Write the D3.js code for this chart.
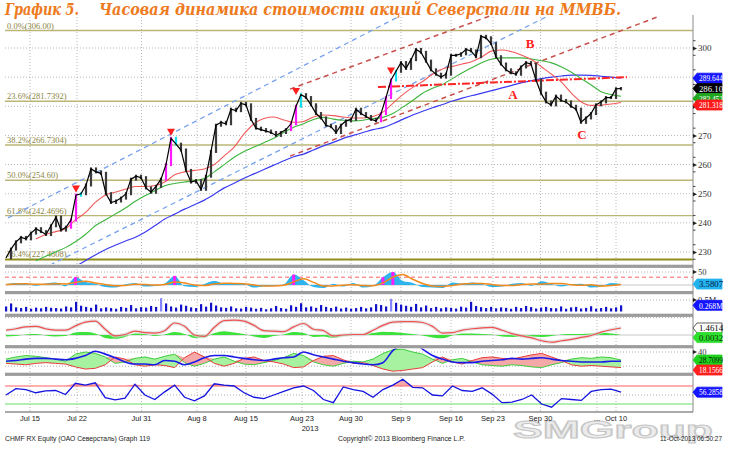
<!DOCTYPE html>
<html>
<head>
<meta charset="utf-8">
<title>График 5. Северсталь</title>
<script src="https://cdn.jsdelivr.net/npm/d3@7"></script>
<style>
  body { margin: 0; background: #fff; }
  svg { display: block; }
</style>
</head>
<body>
<script>
// ---- data ----
var titleLead = "График 5.";
var titleText = "Часовая динамика стоимости акций Северстали на ММВБ.";

// hourly closes, one per bar
var closes = [
  228, 231, 233.5, 235, 234.5, 236.5, 238, 237, 236, 239,
  242, 237.5, 238.5, 241, 249.5, 250, 253, 258.5, 257.5, 257,
  250, 247, 247.5, 248.5, 250, 255, 256, 255.5, 252, 250.5,
  252.5, 255, 260, 269, 267, 265, 258, 254, 254.5, 251.5,
  256, 264.5, 273.5, 274.5, 274, 279, 278.5, 281, 280.5, 275.5,
  272.5, 272, 271.5, 271, 270, 271, 272, 274, 280, 284,
  283, 280.5, 277.5, 276, 273.5, 273, 271, 273.5, 275, 275.5,
  279, 277.5, 276.5, 275.5, 275, 277.5, 283, 289, 292, 295,
  293, 296, 299.5, 298.5, 295.5, 292.5, 291, 290, 291, 297.5,
  297.5, 298, 299.5, 299, 297, 304, 303.5, 301.5, 297, 294.5,
  292.5, 291.5, 291, 293.5, 295, 294.5, 289, 284.5, 281.5, 280.5,
  283.5, 282, 281.5, 280, 279, 274.5, 276, 277.5, 280.5, 281.5,
  283, 283, 286, 286.1
];

// moving averages (63 samples over the same span)
var maRed = [null, null, null, 234.5, 236, 237, 238, 241, 243.5, 247,
  249.5, 250.5, 251.5, 252.5, 252.5, 252.8, 254, 256.5, 257.5, 258,
  258.5, 260, 263, 266, 270.5, 274, 275.8, 276.3, 275.3, 274.5,
  274.8, 276.3, 277, 276.8, 276.3, 276, 276, 276.5, 278, 281,
  284, 286.5, 288.5, 291, 292.8, 293.7, 294.5, 295.4, 297, 299,
  299.3, 298.7, 297.5, 296, 293.5, 291, 288.3, 284.5, 281.5, 280.3,
  280.4, 280.8, 281.318];
var maGreen = [null, null, null, 227, 228.5, 230, 231.5, 233.5, 236, 239,
  241, 243, 245, 247.3, 249.3, 251, 252.7, 253.5, 254, 254.5,
  255.2, 257.5, 260, 262.5, 264.5, 266, 267.5, 269, 271, 272.8,
  274, 275.5, 276.2, 275.6, 275.2, 275, 275.2, 275.8, 276.2, 277.5,
  279.7, 282, 284.5, 286.2, 287.5, 289.5, 291.5, 293.3, 295, 296.2,
  296.6, 296.6, 296.6, 296.2, 295.6, 294.9, 293.5, 291.7, 289.5, 287.3,
  285, 284, 283.452];
var maBlue = [null, null, null, null, null, null, null, 225, 227, 229,
  230.8, 232.3, 233.7, 235, 236.8, 239, 241.3, 243, 244.7, 246.2,
  247.8, 249.8, 252, 253.6, 255.3, 256.8, 258.3, 259.8, 261.3, 262.7,
  263.6, 265, 266.4, 267.6, 269, 270, 271, 272, 272.7, 274,
  275.5, 277, 278.3, 279.5, 280.6, 281.8, 282.8, 283.7, 284.5, 285.4,
  286.3, 287.2, 288.1, 288.8, 289.5, 290, 290.4, 290.7, 290.7, 290.6,
  290.3, 290, 289.644];

// Fibonacci retracement levels
var fibLabels = ["0.0%(306.00)", "23.6%(281.7392)", "38.2%(266.7304)", "50.0%(254.60)", "61.8%(242.4696)", "76.4%(227.4608)"];
var fibLevels = [306.00, 281.7392, 266.7304, 254.60, 242.4696, 227.4608];

// trend lines: [barFrom, priceFrom, barTo, priceTo]
var blueTrends = [[0.4, 241.7, 78.8, 311.0], [8.8, 225.5, 108.4, 311.0]];
var redTrends = [[56.8, 285.9, 96.8, 311.0], [56.8, 262.9, 130.8, 311.0]];
var levelLine = [74.4, 286.6, 124.2, 290.0];

// signal bars with red triangles
var signalBars = [14, 33, 58, 77];
var signalPrices = [252, 271.5, 285.5, 292.5];

// wave labels
var waveLabels = ["A", "B", "C"];
var waveBars = [101.4, 104.8, 115.2];
var wavePrices = [284.3, 301.8, 270.5];

// axes (290 sits under the value boxes, as in the original)
var priceTicks = [230, 240, 250, 260, 270, 280, 300];
var gridPrices = [230, 240, 250, 260, 270, 280, 290, 300];
var dateLabels = ["Jul 15", "Jul 22", "Jul 31", "Aug 8", "Aug 15", "Aug 23", "Aug 30", "Sep 9", "Sep 16", "Sep 23", "Sep 30", "...", "Oct 10"];
var dateBars = [4.8, 14.2, 27.1, 38.2, 48, 59.2, 69, 79, 89, 97.4, 106.9, 118.2, 122];

// last values
var mainBoxText = ["289.644", "286.10", "283.452", "281.318"];
var mainBoxVal = [289.644, 286.10, 283.452, 281.318];
var mainBoxFill = ["#1414ff", "#000000", "#1fa81f", "#ff1a1a"];

// oscillator panel
var oscHist = [3, 8, 5, -3, 6, 10, -5, 30, 12, 5, -8, -10, 2, 8, -6, -4, 6, 35, -5, -8,
  4, 15, 6, 8, 4, -10, -6, -4, 2, 40, 18, -8, -12, 5, -6, 8, -10, -4, 30, 50,
  15, 8, -8, -10, -12, 10, 6, 10, 4, -8, -6, 5, 8, -3, 14, 4, -6, 2, 5, -10,
  -6, 8, 3.5807];
var oscLine = [2, 4, 5, 3, 3, 5, 4, 10, 14, 8, 2, -3, -2, 3, 2, 0, 2, 12, 8, 0,
  -2, 4, 7, 6, 5, 0, -4, -4, -1, 12, 24, 10, -4, -4, -1, 1, -2, -3, 8, 30,
  40, 22, 6, -4, -6, -2, 4, 6, 6, 2, -2, -2, 2, 4, 3, 6, 6, 1, -1, 1,
  -4, -2, 2];
var oscSignals = [7, 17, 29, 38, 39];

// volume, millions
var volume = [
  0.22, 0.35, 0.18, 0.15, 0.2, 0.12, 0.17, 0.14, 0.2, 0.16,
  0.15, 0.13, 0.22, 0.18, 0.42, 0.25, 0.2, 0.16, 0.3, 0.14,
  0.18, 0.15, 0.12, 0.2, 0.16, 0.28, 0.14, 0.19, 0.17, 0.24,
  0.2, 0.58, 0.35, 0.22, 0.17, 0.3, 0.25, 0.18, 0.15, 0.32,
  0.21, 0.38, 0.26, 0.18, 0.16, 0.22, 0.14, 0.13, 0.2, 0.17,
  0.12, 0.16, 0.1, 0.14, 0.24, 0.15, 0.12, 0.27, 0.2, 0.36,
  0.18, 0.22, 0.16, 0.28, 0.2, 0.15, 0.21, 0.13, 0.17, 0.12,
  0.15, 0.2, 0.14, 0.18, 0.32, 0.28, 0.22, 0.55, 0.38, 0.3,
  0.25, 0.2, 0.33, 0.18, 0.26, 0.15, 0.2, 0.14, 0.18, 0.16,
  0.13, 0.21, 0.17, 0.42, 0.24, 0.19, 0.15, 0.2, 0.14, 0.18,
  0.16, 0.12, 0.2, 0.15, 0.24, 0.19, 0.13, 0.17, 0.2, 0.15,
  0.14, 0.22, 0.12, 0.18, 0.2, 0.13, 0.16, 0.23, 0.12, 0.15,
  0.2, 0.14, 0.18, 0.268
];

// MACD-like panel
var macdLine = [1.0, 1.3, 1.7, 1.8, 1.3, 1.0, 1.0, 1.9, 2.7, 2.9,
  1.2, -0.2, 0.1, 0.8, 0.5, 0.4, 0.9, 2.5, 1.8, 0.0,
  -0.3, 1.6, 3.0, 3.1, 2.9, 2.0, 0.9, 0.8, 0.7, 1.7,
  2.4, 1.2, 0.9, -0.2, 0.0, 0.1, 0.1, 1.0, 2.0, 2.7,
  2.8, 2.8, 2.6, 1.8, 0.4, 0.5, 1.0, 1.3, 1.5, 1.6,
  1.0, 0.3, -0.2, -0.6, -1.2, -1.5, -1.2, -0.9, -0.5, -0.1,
  0.6, 1.1, 1.4614];
var macdHist = [-0.3, -0.2, 0.1, 0.2, -0.1, -0.3, -0.2, 0.5, 0.6, 0.3,
  -0.6, -0.8, -0.4, 0.3, 0.2, -0.2, 0.1, 0.6, 0.2, -0.6,
  -0.5, 0.4, 0.8, 0.5, 0.2, -0.3, -0.6, -0.2, 0.1, 0.6,
  0.4, -0.4, -0.3, -0.6, -0.2, 0.0, 0.1, 0.4, 0.7, 0.6,
  0.4, 0.2, -0.1, -0.5, -0.7, -0.1, 0.3, 0.3, 0.2, 0.1,
  -0.3, -0.4, -0.3, -0.3, -0.4, -0.2, 0.1, 0.2, 0.2, 0.3,
  0.4, 0.3, 0.0032];

// DMI-like panel
var dmiAdx = [27, 28, 30, 31, 31, 30, 29, 31, 35, 41,
  37, 32, 26, 23, 23, 22, 28, 27, 22, 26,
  32, 35, 35, 33, 31, 29, 28, 30, 32, 33,
  40, 36, 33, 30, 27, 25, 23, 22, 25, 42,
  50, 53, 44, 35, 30, 26, 25, 25, 27, 28,
  29, 31, 30, 31, 32, 30, 28, 27, 26, 26,
  26, 27, 27];
var dmiPlus = [30, 33, 35, 34, 32, 30, 27, 37, 40, 38,
  33, 24, 26, 31, 33, 30, 34, 37, 25, 20,
  24, 30, 33, 27, 23, 22, 25, 28, 32, 38,
  35, 26, 22, 20, 24, 27, 26, 30, 38, 43,
  44, 40, 37, 30, 24, 29, 31, 26, 22, 21,
  20, 22, 21, 19, 18, 22, 25, 30, 32, 31,
  33, 32, 28.7099];
var dmiMinus = [24, 23, 22, 24, 25, 24, 23, 19, 16, 17,
  22, 33, 30, 22, 20, 22, 21, 18, 32, 40,
  33, 24, 20, 24, 31, 33, 28, 26, 23, 18,
  19, 28, 34, 35, 29, 24, 25, 21, 16, 13,
  14, 16, 18, 26, 33, 26, 23, 28, 32, 33,
  31, 30, 33, 36, 38, 33, 28, 22, 20, 21,
  20, 19, 18.1566];

// RSI panel
var rsi = [50, 64, 62, 55, 59, 60, 51, 76, 72, 77,
  44, 39, 43, 74, 50, 40, 57, 72, 45, 37,
  48, 75, 72, 70, 55, 45, 42, 50, 58, 66,
  70, 60, 40, 33, 68, 62, 58, 45, 62, 72,
  85, 67, 66, 50, 48, 70, 60, 58, 66, 52,
  33, 34, 40, 50, 30, 23, 42, 40, 38, 58,
  62, 63, 56.2858];

// ---- drawing ----
var W = 729, H = 449, L = 5, R = 693;

var svg = d3.select('body').append('svg')
    .attr('width', W)
    .attr('height', H)
    .style('font-family', '"Liberation Sans", Arial, sans-serif');

var x = d3.scaleLinear().domain([0, closes.length - 1]).range([6, 621]);
var xk = d3.scaleLinear().domain([0, rsi.length - 1]).range([6, 621]);
var y = d3.scaleLinear().domain([230, 300]).range([252, 48]);

var panels = {
    main: { top: 15, bottom: 264 },
    osc: { top: 268, bottom: 291, s: d3.scaleLinear().domain([0, 50]).range([285, 272]) },
    vol: { top: 294, bottom: 313.5, s: d3.scaleLinear().domain([0, 0.5]).range([311.5, 300]) },
    macd: { top: 317, bottom: 345, s: d3.scaleLinear().domain([0, 3]).range([335, 320.6]) },
    dmi: { top: 348.5, bottom: 372.8, s: d3.scaleLinear().domain([20, 40]).range([366.2, 352]) },
    rsi: { top: 376, bottom: 411.5, s: d3.scaleLinear().domain([30, 70]).range([404, 386]) }
};
var separators = [266.3, 292.6, 315.3, 346.7, 374.3];

function clipped(id, p) {
    svg.append('clipPath').attr('id', id).append('rect')
        .attr('x', L).attr('y', p.top).attr('width', R - L).attr('height', p.bottom - p.top);
    return svg.append('g').attr('clip-path', 'url(#' + id + ')');
}

// watermark behind everything
svg.append('text')
    .attr('x', 513).attr('y', 438)
    .attr('textLength', 200).attr('lengthAdjust', 'spacingAndGlyphs')
    .style('font', 'bold 24px "Liberation Sans", Arial, sans-serif')
    .attr('fill', '#ebebeb').attr('stroke', '#c6c6c6').attr('stroke-width', 1)
    .text('SMGroup');

// title in two pieces, gap between them
var titleFont = 'italic bold 17px "DejaVu Serif", serif';
svg.append('text')
    .attr('x', 5).attr('y', 15)
    .attr('textLength', 74).attr('lengthAdjust', 'spacingAndGlyphs')
    .style('font', titleFont).attr('fill', '#ee7a1e')
    .text(titleLead);
svg.append('text')
    .attr('x', 99).attr('y', 15)
    .attr('textLength', 522).attr('lengthAdjust', 'spacingAndGlyphs')
    .style('font', titleFont).attr('fill', '#ee7a1e')
    .text(titleText);

// vertical date grid through all panels
svg.append('g').selectAll('line').data(dateBars).enter().append('line')
    .attr('x1', function (d) { return x(d); }).attr('x2', function (d) { return x(d); })
    .attr('y1', 17).attr('y2', 412)
    .attr('stroke', '#b8b8b8').attr('stroke-dasharray', '1,2');

// ---------- main price panel ----------
var gm = clipped('clipMain', panels.main);

gm.selectAll('line.hgrid').data(gridPrices).enter().append('line')
    .attr('class', 'hgrid')
    .attr('x1', L).attr('x2', R)
    .attr('y1', function (d) { return y(d); }).attr('y2', function (d) { return y(d); })
    .attr('stroke', '#b8b8b8').attr('stroke-dasharray', '1,2');

gm.selectAll('line.fib').data(fibLevels).enter().append('line')
    .attr('class', 'fib')
    .attr('x1', L).attr('x2', R)
    .attr('y1', function (d) { return y(d); }).attr('y2', function (d) { return y(d); })
    .attr('stroke', function (d, i) { return i === fibLevels.length - 1 ? '#8f8d1c' : '#bab677'; })
    .attr('stroke-width', function (d, i) { return i === fibLevels.length - 1 ? 2 : 1.4; });

gm.selectAll('text.fib').data(fibLabels).enter().append('text')
    .attr('class', 'fib')
    .attr('x', 7).attr('y', function (d, i) { return y(fibLevels[i]) - 2; })
    .style('font', '8.5px "Liberation Serif", serif')
    .attr('fill', '#8a8440')
    .text(function (d) { return d; });

function trend(seg) {
    return 'M' + x(seg[0]) + ',' + y(seg[1]) + 'L' + x(seg[2]) + ',' + y(seg[3]);
}
gm.selectAll('path.btrend').data(blueTrends).enter().append('path')
    .attr('d', trend).attr('fill', 'none')
    .attr('stroke', '#76a2ee').attr('stroke-width', 1.3).attr('stroke-dasharray', '5,4');
gm.selectAll('path.rtrend').data(redTrends).enter().append('path')
    .attr('d', trend).attr('fill', 'none')
    .attr('stroke', '#c8504c').attr('stroke-width', 1.5).attr('stroke-dasharray', '5,4');

function maLine(arr) {
    return d3.line()
        .defined(function (d) { return d !== null; })
        .x(function (d, i) { return xk(i); })
        .y(function (d) { return y(d); })
        .curve(d3.curveMonotoneX)(arr);
}
gm.append('path').attr('d', maLine(maBlue)).attr('fill', 'none').attr('stroke', '#3a3af0').attr('stroke-width', 1.2);
gm.append('path').attr('d', maLine(maGreen)).attr('fill', 'none').attr('stroke', '#3cb43c').attr('stroke-width', 1.1);
gm.append('path').attr('d', maLine(maRed)).attr('fill', 'none').attr('stroke', '#f25a5a').attr('stroke-width', 1.1);

gm.append('path').attr('d', trend(levelLine)).attr('fill', 'none')
    .attr('stroke', '#ff2424').attr('stroke-width', 2).attr('stroke-dasharray', '8,2,2,2');

// candle-like bodies between consecutive closes
var bodyColor = function (i) {
    for (var k = 0; k < signalBars.length; k++) {
        var s = signalBars[k];
        if (i === s - 1 || i === s || (k === 3 && i === s - 2)) return '#ff1aff';
        if (i === s + 1) return '#16e0f0';
    }
    return '#3c3c3c';
};
gm.selectAll('rect.body').data(closes.slice(1)).enter().append('rect')
    .attr('x', function (d, i) { return x(i + 1) - 1.1; })
    .attr('width', 2.2)
    .attr('y', function (d, i) { return y(Math.max(d, closes[i])) - 1.5; })
    .attr('height', function (d, i) { return Math.abs(y(d) - y(closes[i])) + 3; })
    .attr('fill', function (d, i) { return bodyColor(i + 1); });

gm.append('path')
    .attr('d', d3.line().x(function (d, i) { return x(i); }).y(function (d) { return y(d); })(closes))
    .attr('fill', 'none').attr('stroke', '#000').attr('stroke-width', 1.2);

gm.selectAll('path.tri').data(signalBars).enter().append('path')
    .attr('d', d3.symbol().type(d3.symbolTriangle).size(28))
    .attr('transform', function (d, i) { return 'translate(' + x(d) + ',' + y(signalPrices[i]) + ') rotate(180)'; })
    .attr('fill', '#ff2020');

gm.selectAll('text.wave').data(waveLabels).enter().append('text')
    .attr('x', function (d, i) { return x(waveBars[i]); })
    .attr('y', function (d, i) { return y(wavePrices[i]) + 5; })
    .attr('text-anchor', 'middle')
    .style('font', 'bold 13px "Liberation Serif", serif')
    .attr('fill', '#ff2020')
    .text(function (d) { return d; });

// ---------- oscillator panel ----------
var go = clipped('clipOsc', panels.osc), so = panels.osc.s;
go.append('line').attr('x1', L).attr('x2', R).attr('y1', so(50)).attr('y2', so(50))
    .attr('stroke', '#b0b0b0').attr('stroke-dasharray', '1,2');
go.append('line').attr('x1', L).attr('x2', R).attr('y1', so(0)).attr('y2', so(0))
    .attr('stroke', '#c8c8c8');
go.append('line').attr('x1', L).attr('x2', R).attr('y1', so(30)).attr('y2', so(30))
    .attr('stroke', '#ff6060').attr('stroke-dasharray', '4,3');
go.append('path')
    .attr('d', d3.area().x(function (d, i) { return xk(i); }).y0(so(0)).y1(function (d) { return so(d); })
        .curve(d3.curveMonotoneX)(oscHist))
    .attr('fill', '#2cb4ee');
go.selectAll('rect.sig').data(oscSignals).enter().append('rect')
    .attr('x', function (d) { return xk(d) - 1.5; }).attr('width', 3)
    .attr('y', function (d) { return so(oscHist[d]); })
    .attr('height', function (d) { return so(0) - so(oscHist[d]); })
    .attr('fill', '#ff1aff');
go.append('path')
    .attr('d', d3.line().x(function (d, i) { return xk(i); }).y(function (d) { return so(d); })
        .curve(d3.curveMonotoneX)(oscLine))
    .attr('fill', 'none').attr('stroke', '#f08a1c').attr('stroke-width', 1.5);

// ---------- volume panel ----------
var gv = clipped('clipVol', panels.vol), sv = panels.vol.s;
gv.append('line').attr('x1', L).attr('x2', R).attr('y1', sv(0.5)).attr('y2', sv(0.5))
    .attr('stroke', '#b0b0b0').attr('stroke-dasharray', '1,2');
gv.selectAll('rect').data(volume).enter().append('rect')
    .attr('x', function (d, i) { return x(i) - 1; }).attr('width', 2.2)
    .attr('y', function (d) { return sv(d); })
    .attr('height', function (d) { return sv(0) - sv(d); })
    .attr('fill', function (d) { return d > 0.45 ? '#8484ff' : '#1212c8'; });

// ---------- MACD panel ----------
var gc = clipped('clipMacd', panels.macd), sc = panels.macd.s;
gc.append('line').attr('x1', L).attr('x2', R).attr('y1', 317.6).attr('y2', 317.6)
    .attr('stroke', '#b0b0b0').attr('stroke-dasharray', '1,2');
gc.append('line').attr('x1', L).attr('x2', R).attr('y1', sc(0)).attr('y2', sc(0))
    .attr('stroke', '#c8c8c8');
gc.append('path')
    .attr('d', d3.area().x(function (d, i) { return xk(i); }).y0(sc(0)).y1(function (d) { return sc(d); })
        .curve(d3.curveMonotoneX)(macdHist))
    .attr('fill', '#3ae23a');
gc.append('path')
    .attr('d', d3.line().x(function (d, i) { return xk(i); }).y(function (d) { return sc(d); })
        .curve(d3.curveMonotoneX)(macdLine))
    .attr('fill', 'none').attr('stroke', '#d8d8d8').attr('stroke-width', 3.5).attr('opacity', 0.7);
gc.append('path')
    .attr('d', d3.line().x(function (d, i) { return xk(i); }).y(function (d) { return sc(d); })
        .curve(d3.curveMonotoneX)(macdLine))
    .attr('fill', 'none').attr('stroke', '#f05050').attr('stroke-width', 1.2);

// ---------- DMI panel ----------
var gd = clipped('clipDmi', panels.dmi), sd = panels.dmi.s;
[40, 20].forEach(function (v) {
    gd.append('line').attr('x1', L).attr('x2', R).attr('y1', sd(v)).attr('y2', sd(v))
        .attr('stroke', '#b0b0b0').attr('stroke-dasharray', '1,2');
});
var dmiX = function (d, i) { return xk(i); };
gd.append('path')
    .attr('d', d3.area().x(dmiX)
        .y0(function (d, i) { return sd(dmiMinus[i]); })
        .y1(function (d, i) { return sd(Math.max(d, dmiMinus[i])); })(dmiPlus))
    .attr('fill', '#a6f2a0');
gd.append('path')
    .attr('d', d3.area().x(dmiX)
        .y0(function (d, i) { return sd(dmiPlus[i]); })
        .y1(function (d, i) { return sd(Math.max(d, dmiPlus[i])); })(dmiMinus))
    .attr('fill', '#f5a8a8');
gd.append('path').attr('d', d3.line().x(dmiX).y(function (d) { return sd(d); })(dmiPlus))
    .attr('fill', 'none').attr('stroke', '#3ccc3c').attr('stroke-width', 1);
gd.append('path').attr('d', d3.line().x(dmiX).y(function (d) { return sd(d); })(dmiMinus))
    .attr('fill', 'none').attr('stroke', '#e63a3a').attr('stroke-width', 1);
gd.append('path').attr('d', d3.line().x(dmiX).y(function (d) { return sd(d); }).curve(d3.curveMonotoneX)(dmiAdx))
    .attr('fill', 'none').attr('stroke', '#1a1ae8').attr('stroke-width', 1.6);

// ---------- RSI panel ----------
var gr = clipped('clipRsi', panels.rsi), sr = panels.rsi.s;
gr.append('line').attr('x1', L).attr('x2', R).attr('y1', sr(50)).attr('y2', sr(50))
    .attr('stroke', '#b0b0b0').attr('stroke-dasharray', '1,2');
gr.append('path')
    .attr('d', d3.area().x(function (d, i) { return xk(i); }).y0(sr(70))
        .y1(function (d) { return sr(Math.max(d, 70)); })(rsi))
    .attr('fill', '#f5a8a8');
gr.append('line').attr('x1', L).attr('x2', R).attr('y1', sr(70)).attr('y2', sr(70))
    .attr('stroke', '#ff6060').attr('stroke-width', 1.2);
gr.append('line').attr('x1', L).attr('x2', R).attr('y1', sr(30)).attr('y2', sr(30))
    .attr('stroke', '#66e066').attr('stroke-width', 1.2);
gr.append('path')
    .attr('d', d3.line().x(function (d, i) { return xk(i); }).y(function (d) { return sr(d); })(rsi))
    .attr('fill', 'none').attr('stroke', '#1414e0').attr('stroke-width', 1.3);

// ---------- frame: separators, right axis, date axis ----------
svg.selectAll('rect.sep').data(separators).enter().append('rect')
    .attr('x', L).attr('width', R - L)
    .attr('y', function (d) { return d - 1.6; }).attr('height', 3.2)
    .attr('fill', '#9c9c9c');

svg.append('line').attr('x1', R).attr('x2', R).attr('y1', 15).attr('y2', 412)
    .attr('stroke', '#8a8a8a');
svg.append('line').attr('x1', L).attr('x2', R).attr('y1', 412).attr('y2', 412)
    .attr('stroke', '#555');

var axisR = d3.axisRight(y).tickValues(priceTicks).tickSize(0).tickPadding(5);
var gAx = svg.append('g').attr('transform', 'translate(' + R + ',0)').call(axisR);
gAx.select('.domain').remove();
gAx.selectAll('text').style('font', '9px "Liberation Serif", serif').attr('fill', '#333');
// arrow ticks + minor ticks
gAx.selectAll('.tick').append('path').attr('d', 'M0,-2L4,0L0,2Z').attr('fill', '#222');
svg.append('g').selectAll('line').data(d3.range(227.5, 305, 5)).enter().append('line')
    .attr('x1', R).attr('x2', R + 2.5)
    .attr('y1', function (d) { return y(d); }).attr('y2', function (d) { return y(d); })
    .attr('stroke', '#444');

var lowerLabels = [
    { t: '50', y: panels.osc.s(50) },
    { t: '0.5M', y: panels.vol.s(0.5) },
    { t: '40', y: panels.dmi.s(40) }
];
svg.selectAll('text.lowlab').data(lowerLabels).enter().append('text')
    .attr('x', R + 5).attr('y', function (d) { return d.y + 3; })
    .style('font', '8.5px "Liberation Serif", serif').attr('fill', '#333')
    .text(function (d) { return d.t; });
svg.selectAll('path.lowtick').data(lowerLabels).enter().append('path')
    .attr('d', function (d) { return 'M' + R + ',' + (d.y - 2) + 'L' + (R + 4) + ',' + d.y + 'L' + R + ',' + (d.y + 2) + 'Z'; })
    .attr('fill', '#222');

// value boxes
function valueBox(cy, txt, fill, color, stroke) {
    var g = svg.append('g');
    g.append('path')
        .attr('d', 'M' + R + ',' + cy + 'L' + (R + 4) + ',' + (cy - 5) + 'L' + 722 + ',' + (cy - 5) +
            'L' + 722 + ',' + (cy + 5) + 'L' + (R + 4) + ',' + (cy + 5) + 'Z')
        .attr('fill', fill).attr('stroke', stroke || fill).attr('stroke-width', 0.8);
    g.append('text').attr('x', R + 6).attr('y', cy + 3.2)
        .attr('textLength', 24).attr('lengthAdjust', 'spacingAndGlyphs')
        .style('font', '9px "Liberation Serif", serif').attr('fill', color).text(txt);
}
function stackBoxes(items) {
    var prev = -Infinity;
    items.forEach(function (it) {
        var cy = Math.max(it.y, Math.min(prev + 10, it.y + 2.6));
        valueBox(cy, it.t, it.f, it.c, it.s);
        prev = cy;
    });
}
stackBoxes(mainBoxText.map(function (t, i) {
    return { y: y(mainBoxVal[i]), t: t, f: mainBoxFill[i], c: '#fff' };
}));
stackBoxes([{ y: panels.osc.s(oscHist[oscHist.length - 1]), t: '3.5807', f: '#22b2ee', c: '#0a1440' }]);
stackBoxes([{ y: panels.vol.s(volume[volume.length - 1]), t: '0.268M', f: '#1414ff', c: '#fff' }]);
stackBoxes([
    { y: panels.macd.s(macdLine[macdLine.length - 1]), t: '1.4614', f: '#fff', c: '#000', s: '#333' },
    { y: panels.macd.s(macdHist[macdHist.length - 1]), t: '0.0032', f: '#2ee02e', c: '#063006' }
]);
stackBoxes([
    { y: panels.dmi.s(dmiPlus[dmiPlus.length - 1]), t: '28.7099', f: '#1ed21e', c: '#001a00' },
    { y: panels.dmi.s(dmiMinus[dmiMinus.length - 1]), t: '18.1566', f: '#ff2020', c: '#fff' }
]);
stackBoxes([{ y: panels.rsi.s(rsi[rsi.length - 1]), t: '56.2858', f: '#1414ff', c: '#fff' }]);

// date labels
svg.append('g').selectAll('text').data(dateLabels).enter().append('text')
    .attr('x', function (d, i) { return x(dateBars[i]); }).attr('y', 421)
    .attr('text-anchor', 'middle')
    .style('font-size', '7.5px').attr('fill', '#222')
    .text(function (d) { return d; });
svg.append('text').attr('x', 310).attr('y', 430.5).attr('text-anchor', 'middle')
    .style('font-size', '7.5px').attr('fill', '#222').text('2013');

// footer
var footer = [
    { t: 'CHMF RX Equity (ОАО Северсталь) Graph 119', x: 5, w: 145 },
    { t: 'Copyright© 2013 Bloomberg Finance L.P.', x: 338, w: 127 },
    { t: '11-Oct-2013 06:50:27', x: 660, w: 62 }
];
svg.append('g').selectAll('text').data(footer).enter().append('text')
    .attr('x', function (d) { return d.x; }).attr('y', 441)
    .attr('textLength', function (d) { return d.w; }).attr('lengthAdjust', 'spacingAndGlyphs')
    .style('font-size', '8px').attr('fill', '#222')
    .text(function (d) { return d.t; });
</script>
</body>
</html>
